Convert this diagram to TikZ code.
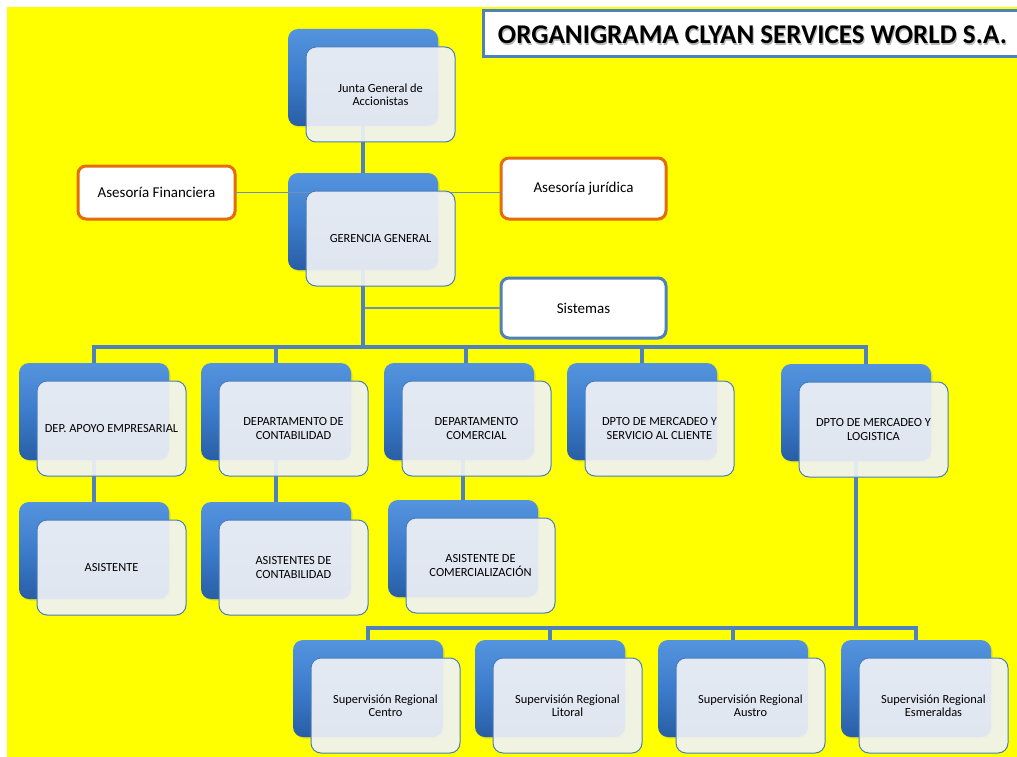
\documentclass[tikz,border=0pt]{standalone}
\usepackage{fontspec}
\setmainfont{Carlito}
\usetikzlibrary{shadows,calc}
\definecolor{bgyellow}{RGB}{255,255,0}
\definecolor{conn}{RGB}{79,129,189}
\definecolor{thinc}{RGB}{110,145,185}
\definecolor{backtop}{RGB}{84,148,222}
\definecolor{backmid}{RGB}{60,124,204}
\definecolor{backbot}{RGB}{40,94,165}
\definecolor{frontfill}{RGB}{240,242,246}
\definecolor{frontdraw}{RGB}{74,126,187}
\definecolor{orangeb}{RGB}{228,108,10}
\tikzset{
  backbox/.style={rectangle, rounded corners=10pt, minimum width=150pt, minimum height=97pt,
    anchor=north west, top color=backtop, bottom color=backbot, middle color=backmid,
    draw=none, outer sep=0pt, inner sep=0pt,
    drop shadow={opacity=0.25, shadow xshift=1.5pt, shadow yshift=-1.5pt}},
  frontbox/.style={rectangle, rounded corners=10pt, minimum width=149pt, minimum height=95pt,
    anchor=north west, fill=frontfill, fill opacity=0.92, text opacity=1, draw=frontdraw,
    line width=1pt, align=center, inner sep=4pt, outer sep=0pt,
    font=\fontsize{12.4}{13.5}\selectfont},
  conline/.style={conn, line width=3.5pt},
  thinline/.style={thinc, line width=1.2pt},
  advisor/.style={rectangle, rounded corners=8pt, fill=white, line width=3pt, outer sep=0pt,
    inner sep=0pt, font=\fontsize{15}{18}\selectfont,
    drop shadow={opacity=0.2, shadow xshift=1.5pt, shadow yshift=-1.5pt}},
}
\newcommand{\orgback}[3]{\node[backbox] (#1-back) at (#2,#3) {};}
\newcommand{\orgfront}[4]{\node[frontbox] (#1) at ($(#2,#3)+(18,18)$) {#4};}
\begin{document}
\begin{tikzpicture}[x=1pt,y=-1pt]
\useasboundingbox (0,0) rectangle (1017,757);
\fill[white] (0,0) rectangle (1017,757);
\fill[bgyellow] (7,7) rectangle (1017,757);

% title
\node[draw=conn, line width=3pt, fill=white, minimum width=560pt, minimum height=46pt,
  anchor=north west, outer sep=0pt, inner sep=0pt,
  drop shadow={opacity=0.25, shadow xshift=1.5pt, shadow yshift=-1.5pt}] (titlebox) at (483,11) {};
\node[text=black!28, inner sep=0pt] (titleshadow) at (753.5,36.3)
  {\resizebox{509pt}{!}{\bfseries ORGANIGRAMA CLYAN SERVICES WORLD S.A.}};
\node[text=black, inner sep=0pt] (title) at (752.5,35)
  {\resizebox{509pt}{!}{\bfseries ORGANIGRAMA CLYAN SERVICES WORLD S.A.}};

% advisors
\node[advisor, draw=orangeb, minimum width=157pt, minimum height=53pt] (financiera) at (156.5,192.5) {Asesoría Financiera};
\node[advisor, draw=orangeb, minimum width=165pt, minimum height=61pt] (juridica) at (583.5,188.5) {Asesoría jurídica};
\node[advisor, draw=conn, minimum width=165pt, minimum height=60pt] (sistemas) at (583.5,308) {Sistemas};

% back boxes
\orgback{junta}{288}{29}
\orgback{gerencia}{288}{173}
\orgback{apoyo}{19}{363}
\orgback{contab}{201}{363}
\orgback{comercial}{384}{363}
\orgback{servicio}{567}{363}
\orgback{logistica}{781}{364}
\orgback{asistente}{19}{502}
\orgback{asiscont}{201}{502}
\orgback{asiscom}{388}{500}
\orgback{centro}{293}{640}
\orgback{litoral}{475}{640}
\orgback{austro}{658}{640}
\orgback{esmeraldas}{841}{640}

% connectors
\draw[thinline] (financiera.east) -- (financiera.east -| juridica.west);
\draw[thinline] (sistemas.west) -- (sistemas.west -| gerencia-back.south);
\coordinate (bus) at (363,347);
\coordinate (bus2) at (856,628);
\draw[conline] (junta-back.south) -- (gerencia-back.north);
\draw[conline] (gerencia-back.south) -- (bus);
\draw[conline] (apoyo-back.north) |- (bus);
\draw[conline] (contab-back.north) |- (bus);
\draw[conline] ([xshift=7pt]comercial-back.north) |- (bus);
\draw[conline] (servicio-back.north) |- (bus);
\draw[conline] ([xshift=10pt]logistica-back.north) |- (bus);
\draw[conline] (apoyo-back.south) -- (asistente-back.north);
\draw[conline] (contab-back.south) -- (asiscont-back.north);
\draw[conline] (comercial-back.south -| asiscom-back.north) -- (asiscom-back.north);
\draw[conline] (logistica-back.south) -- (bus2);
\draw[conline] (centro-back.north) |- (bus2);
\draw[conline] (litoral-back.north) |- (bus2);
\draw[conline] (austro-back.north) |- (bus2);
\draw[conline] (esmeraldas-back.north) |- (bus2);

% front boxes
\orgfront{junta}{288}{29}{Junta General de\\Accionistas}
\orgfront{gerencia}{288}{173}{GERENCIA GENERAL}
\orgfront{apoyo}{19}{363}{DEP. APOYO EMPRESARIAL}
\orgfront{contab}{201}{363}{DEPARTAMENTO DE\\CONTABILIDAD}
\orgfront{comercial}{384}{363}{DEPARTAMENTO\\COMERCIAL}
\orgfront{servicio}{567}{363}{DPTO DE MERCADEO Y\\SERVICIO AL CLIENTE}
\orgfront{logistica}{781}{364}{DPTO DE MERCADEO Y\\LOGISTICA}
\orgfront{asistente}{19}{502}{ASISTENTE}
\orgfront{asiscont}{201}{502}{ASISTENTES DE\\CONTABILIDAD}
\orgfront{asiscom}{388}{500}{ASISTENTE DE\\COMERCIALIZACIÓN}
\orgfront{centro}{293}{640}{Supervisión Regional\\Centro}
\orgfront{litoral}{475}{640}{Supervisión Regional\\Litoral}
\orgfront{austro}{658}{640}{Supervisión Regional\\Austro}
\orgfront{esmeraldas}{841}{640}{Supervisión Regional\\Esmeraldas}
\end{tikzpicture}
\end{document}
